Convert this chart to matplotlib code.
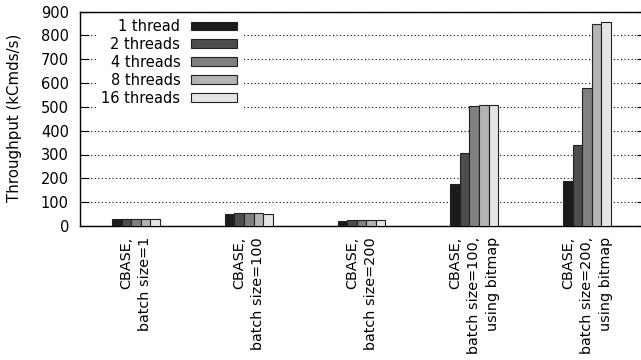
"""Throughput of CBASE configurations for different thread counts."""

import matplotlib

matplotlib.use("Agg")

import matplotlib.pyplot as plt
import numpy as np

CONFIGS = [
    "CBASE,\nbatch size=1",
    "CBASE,\nbatch size=100",
    "CBASE,\nbatch size=200",
    "CBASE,\nbatch size=100,\nusing bitmap",
    "CBASE,\nbatch size=200,\nusing bitmap",
]
THREAD_LABELS = ["1 thread", "2 threads", "4 threads", "8 threads", "16 threads"]

# throughput in kCmds/s, one list per thread count
THREADS_1 = [31, 49, 21, 175, 189]
THREADS_2 = [31, 53, 27, 307, 339]
THREADS_4 = [31, 53, 27, 503, 581]
THREADS_8 = [31, 53, 27, 507, 847]
THREADS_16 = [31, 50, 27, 507, 855]

SERIES = [THREADS_1, THREADS_2, THREADS_4, THREADS_8, THREADS_16]
COLORS = ["#1b1b1b", "#4d4d4d", "#808080", "#b3b3b3", "#e5e5e5"]
Y_TICKS = list(range(0, 901, 100))

fig = plt.figure(figsize=(6.41, 3.6), dpi=100)
ax = fig.add_axes([80 / 641, 1 - 226 / 360, 566 / 641, 214.5 / 360])

x = np.arange(len(CONFIGS))
width = 0.085
for idx, (values, color, label) in enumerate(zip(SERIES, COLORS, THREAD_LABELS)):
    ax.bar(x + (idx - 2) * width, values, width, color=color, edgecolor="#222222",
           linewidth=0.8, label=label, zorder=3)

ax.set_xlim(-0.497, 4.523)
ax.set_ylim(0, 900)
ax.set_yticks(Y_TICKS)
ax.set_yticklabels([str(v) for v in Y_TICKS], fontsize=10.5)
ax.set_xticks(x)
ax.set_xticklabels(CONFIGS, rotation=90, fontsize=10.4, ha="center", va="top",
                   multialignment="right", linespacing=1.42)
ax.tick_params(axis="x", length=0, pad=8)
ax.tick_params(axis="y", direction="in", length=6.5, width=0.8, right=True, pad=8)

ax.yaxis.grid(True, color="black", linestyle=(0, (1, 2.2)), linewidth=0.8, zorder=0)
ax.set_axisbelow(True)
for side in ("left", "bottom", "top"):
    ax.spines[side].set_linewidth(1.0)
ax.spines["right"].set_visible(False)

ax.set_ylabel("Throughput (kCmds/s)", fontsize=10.8)
ax.yaxis.set_label_coords(-0.1025, 0.506)

leg = ax.legend(loc="upper left", bbox_to_anchor=(0.03, 0.985), markerfirst=False,
                fontsize=10.5, handlelength=3.15, handleheight=0.55, labelspacing=0.2,
                handletextpad=0.75, borderpad=0.3, frameon=True, fancybox=False,
                framealpha=1.0, borderaxespad=0)
leg.get_frame().set_edgecolor("white")
leg.get_frame().set_facecolor("white")
for text in leg.get_texts():
    text.set_ha("right")

fig.savefig("out.png", dpi=100)
